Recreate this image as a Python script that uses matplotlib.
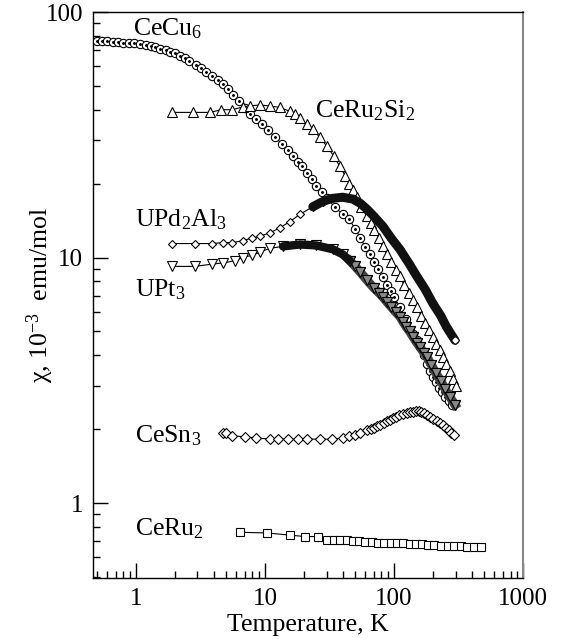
import numpy as np
import matplotlib
matplotlib.use("Agg")
import matplotlib.pyplot as plt
from matplotlib.ticker import LogLocator, NullFormatter

plt.rcParams['font.family'] = ['Liberation Serif', 'DejaVu Serif']
plt.rcParams['mathtext.fontset'] = 'custom'
plt.rcParams['mathtext.rm'] = 'Liberation Serif'
plt.rcParams['mathtext.it'] = 'Liberation Serif:italic'

# susceptibility data (T in K, chi in 1e-3 emu/mol)
cecu6_T = [0.50, 0.55, 0.60, 0.66, 0.72, 0.80, 0.88, 0.97, 1.07, 1.2, 1.3, 1.4,
           1.55, 1.7, 1.85, 2.0, 2.2, 2.4, 2.6, 2.9, 3.2, 3.5, 3.9, 4.3, 4.7,
           5.2, 5.7, 6.3, 7.0, 7.7, 8.5, 9.5, 10.5, 12, 13.5, 15, 16.5, 18, 19.5,
           21, 23, 25, 27.5, 30, 35, 40, 45, 50, 55, 60, 65, 70, 75, 82, 88, 94,
           100, 111, 125, 140, 150, 160, 170, 180, 190, 200, 212, 225, 237, 250,
           265, 280]
cecu6_chi = [76, 76, 76, 75.5, 75.5, 75, 75, 74.5, 74, 73.5, 73, 72,
             71, 70, 69, 68, 66.5, 65, 63, 61, 59, 57, 55, 53, 51,
             48.5, 46, 43.5, 40.5, 38.5, 36.5, 35, 33, 31, 29, 27.5, 26, 24.5, 23.5,
             22, 20.8, 19.5, 18.5, 17.5, 16, 15, 14.3, 13.1, 12, 11, 10.3, 9.6, 9.0,
             8.3, 7.7, 7.3, 6.9, 6.3, 5.6, 4.9, 4.6, 4.3, 4.0, 3.7, 3.45, 3.25,
             3.1, 2.95, 2.82, 2.7, 2.6, 2.5]

ceru2si2_T = [1.9, 2.77, 3.75, 4.6, 5.55, 6.7, 7.7, 9.2, 10.9, 13, 15.6, 17,
              18.7, 21, 23.5, 26.5, 30, 34, 38, 42, 45, 48, 51.5, 56, 61.6, 66,
              70, 76, 82, 88, 95, 103, 111, 120, 130, 140, 150, 162, 175, 187,
              200, 213, 226, 240, 255, 270, 287, 305]
ceru2si2_chi = [39, 39, 39, 40, 40, 41, 41.5, 41.8, 41.4, 40.9, 39.4, 38.3,
                37, 35, 33.3, 31, 28.5, 26, 23.5, 21.5, 20, 18.8, 17.7, 16.1, 14.7, 13.8,
                13, 12, 11.1, 10.3, 9.6, 8.9, 8.4, 7.7, 7.2, 6.7, 6.3, 5.8, 5.4, 5.05,
                4.76, 4.45, 4.2, 3.94, 3.7, 3.45, 3.2, 3.0]

upd2al3_T = [1.9, 2.87, 3.9, 4.7, 5.6, 6.7, 7.9, 9.1, 10.9, 13, 15.6, 18.7,
             23.5, 28, 33, 40, 48, 55, 62, 70, 82, 95, 111, 130, 150, 175, 200,
             230, 256, 297]
upd2al3_chi = [11.4, 11.4, 11.4, 11.5, 11.5, 11.7, 12.0, 12.2, 12.6, 13.2, 14.0, 15.0,
               16.1, 16.9, 17.4, 17.6, 17.3, 16.6, 15.7, 14.7, 13.4, 12.0, 10.8, 9.5,
               8.4, 7.4, 6.5, 5.8, 5.2, 4.6]

upt3_T = [1.9, 2.87, 3.9, 4.7, 5.85, 6.7, 7.9, 9.1, 10.9, 13.8, 18.7, 25,
          33.6, 40, 45.5, 50, 55, 61.6, 70, 76, 82, 88, 95, 103, 111, 118, 125,
          132, 140, 150, 160, 170, 180, 195, 210, 230, 250, 272, 297]
upt3_chi = [9.2, 9.2, 9.4, 9.5, 9.7, 10.0, 10.2, 10.5, 10.9, 11.1, 11.3, 11.2,
            10.8, 10.3, 9.7, 9.2, 8.7, 8.1, 7.5, 7.2, 6.9, 6.6, 6.3, 6.0, 5.75, 5.45, 5.2,
            5.0, 4.76, 4.5, 4.3, 4.1, 3.94, 3.65, 3.4, 3.15, 2.9, 2.7, 2.51]

cesn3_T = [4.7, 5.0, 5.6, 7.0, 8.6, 10.9, 12.6, 15, 18, 21, 26.7, 33, 40, 45,
           50, 55, 61.6, 66, 70, 74, 78, 83, 88, 93, 98, 104, 110, 118, 126, 133,
           140, 148, 155, 162, 170, 180, 190, 202, 215, 228, 240, 252, 265, 277, 290]
cesn3_chi = [1.93, 1.92, 1.88, 1.86, 1.84, 1.82, 1.82, 1.82, 1.82, 1.82, 1.82, 1.82,
             1.84, 1.87, 1.9, 1.93, 1.98, 2.0, 2.03, 2.05, 2.08, 2.11, 2.15, 2.18,
             2.22, 2.25, 2.28, 2.31, 2.33, 2.34, 2.35, 2.36, 2.36, 2.34, 2.32, 2.28,
             2.24, 2.2, 2.16, 2.12, 2.08, 2.03, 1.98, 1.93, 1.89]

ceru2_T = [6.4, 10.4, 15.6, 20.4, 25.7, 30, 34, 38, 43, 48, 54, 60, 67, 75,
           84, 94, 105, 118, 132, 148, 165, 185, 205, 230, 260, 290, 330, 370,
           420, 470]
ceru2_chi = [0.76, 0.755, 0.74, 0.73, 0.73, 0.71, 0.71, 0.71, 0.705, 0.70, 0.70,
             0.695, 0.695, 0.69, 0.69, 0.69, 0.686, 0.685, 0.683, 0.68, 0.678,
             0.675, 0.672, 0.67, 0.67, 0.668, 0.665, 0.663, 0.66, 0.66]

labels = ['CeCu$_6$', 'CeRu$_2$Si$_2$', 'UPd$_2$Al$_3$', 'UPt$_3$', 'CeSn$_3$', 'CeRu$_2$']
label_T = [0.95, 24.4, 0.99, 0.99, 0.99, 0.99]
label_chi = [80, 37.3, 13.4, 6.93, 1.77, 0.74]

fig = plt.figure(figsize=(5.65, 6.39), dpi=100)
ax = fig.add_axes([0.1646, 0.0955, 0.7611, 0.8857])
ax.set_xscale('log')
ax.set_yscale('log')

line_kw = dict(color='black', lw=0.8)

# CeCu6: dotted circles
T = np.array(cecu6_T); c = np.array(cecu6_chi)
ax.plot(T, c, marker='o', ms=6, mfc='white', mec='black', mew=0.8, **line_kw, zorder=3)
ax.plot(T, c, ls='none', marker='.', ms=2.2, color='black', zorder=3)

# CeRu2Si2: up triangles
ax.plot(ceru2si2_T, ceru2si2_chi, marker='^', ms=6.5, mfc='white', mec='black',
        mew=0.8, **line_kw, zorder=4)

# UPd2Al3: diamonds merging into a black band
T = np.array(upd2al3_T); c = np.array(upd2al3_chi)
hi = T >= 20
ax.plot(T, c, marker='D', ms=4.5, mfc='white', mec='black', mew=0.8, **line_kw, zorder=5)
ax.plot(T[hi], c[hi], color='#111111', lw=6.5, solid_capstyle='round', zorder=5)
ax.plot(T[-1:], c[-1:], ls='none', marker='D', ms=2.5, mfc='white', mec='white', zorder=6)

# UPt3: down triangles merging into a dark band
T = np.array(upt3_T); c = np.array(upt3_chi)
mid = (T >= 13) & (T <= 46)
hi = T >= 45
ax.plot(T, c, marker='v', ms=6.5, mfc='white', mec='black', mew=0.8, **line_kw, zorder=4)
ax.plot(T[mid], c[mid], color='#111111', lw=6, solid_capstyle='round', zorder=5)
ax.plot(T[hi], c[hi], color='#444444', lw=6.5, zorder=4)
ax.plot(T[hi], c[hi], ls='none', marker='v', ms=6.5, mfc='#888888', mec='black', mew=0.8, zorder=4)

# CeSn3: diamonds
ax.plot(cesn3_T, cesn3_chi, marker='D', ms=4.8, mfc='white', mec='black', mew=0.8,
        **line_kw, zorder=3)

# CeRu2: squares
ax.plot(ceru2_T, ceru2_chi, marker='s', ms=5.2, mfc='white', mec='black', mew=0.8,
        **line_kw, zorder=3)

for lab, tx, cy in zip(labels, label_T, label_chi):
    ax.text(tx, cy, lab, fontsize=18.5, va='baseline', ha='left', zorder=7)

ax.set_xlim(0.465, 1000)
ax.set_ylim(0.495, 100)

ax.set_xticks([1, 10, 100, 1000])
ax.set_xticklabels(['1', '10', '100', '1000'])
ax.set_yticks([1, 10, 100])
ax.set_yticklabels(['1', '10', '100'])
ax.xaxis.set_minor_locator(LogLocator(base=10, subs=np.arange(2, 10), numticks=20))
ax.yaxis.set_minor_locator(LogLocator(base=10, subs=np.arange(2, 10), numticks=20))
ax.xaxis.set_minor_formatter(NullFormatter())
ax.yaxis.set_minor_formatter(NullFormatter())
ax.tick_params(which='both', direction='in', top=False, right=False,
               labelsize=18, width=1, color='black')
ax.tick_params(which='major', length=11, pad=7)
ax.tick_params(which='minor', length=5)

for s in ['left', 'bottom', 'top']:
    ax.spines[s].set_color('black')
    ax.spines[s].set_linewidth(1)
ax.spines['right'].set_color('#888888')
ax.spines['right'].set_linewidth(1.5)

ax.set_xlabel('Temperature, K', fontsize=18.5, labelpad=3)
ax.set_ylabel('χ, 10$^{-3}$  emu/mol', fontsize=18.5)
ax.yaxis.set_label_coords(-0.086, 0.5)

fig.savefig('out.png', dpi=100)
